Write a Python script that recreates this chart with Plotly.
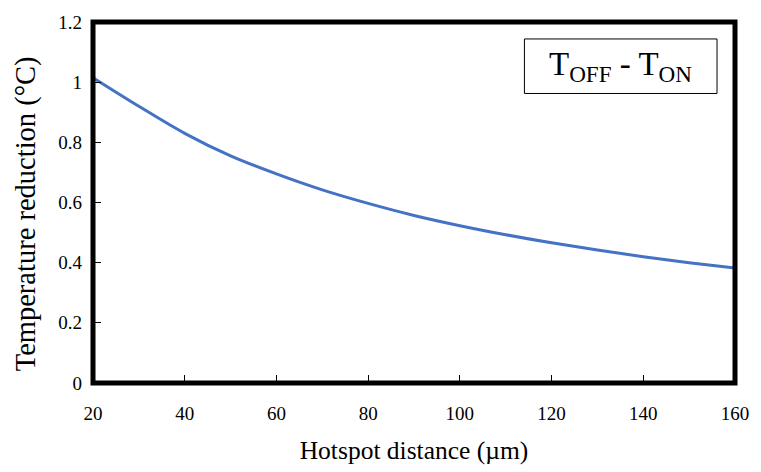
import plotly.graph_objects as go

# Temperature reduction versus hotspot distance
distance_um = [20, 30, 40, 50, 60, 70, 80, 90, 100, 110, 120, 130, 140, 150, 160]
temp_reduction_c = [1.015, 0.920, 0.830, 0.755, 0.695, 0.642, 0.597, 0.557, 0.523, 0.493,
                    0.466, 0.442, 0.420, 0.400, 0.382]

x_ticks = [20, 40, 60, 80, 100, 120, 140, 160]
y_ticks = [0, 0.2, 0.4, 0.6, 0.8, 1.0, 1.2]
y_tick_labels = ["0", "0.2", "0.4", "0.6", "0.8", "1", "1.2"]

serif = "Liberation Serif, Times New Roman, serif"

fig = go.Figure()
fig.add_trace(go.Scatter(
    x=distance_um, y=temp_reduction_c, mode="lines",
    line=dict(color="#4472C4", width=3, shape="spline", smoothing=1.0),
    showlegend=False, hoverinfo="skip",
))

axis_common = dict(
    showgrid=False, zeroline=False, showline=False,
    ticks="inside", ticklen=8, tickwidth=1.2, tickcolor="black",
    tickfont=dict(family=serif, size=19, color="black"),
)

fig.update_xaxes(
    range=[20, 160], tickvals=x_ticks, ticklabelstandoff=17,
    title=dict(text="Hotspot distance (µm)", font=dict(family=serif, size=25.5, color="black"), standoff=18),
    **axis_common,
)
fig.update_yaxes(
    range=[0, 1.2], tickvals=y_ticks, ticktext=y_tick_labels, ticklabelstandoff=10,
    **axis_common,
)

# Heavy frame centred on the plot-area edges
fig.add_shape(type="rect", xref="paper", yref="paper", x0=0, x1=1, y0=0, y1=1,
              line=dict(color="black", width=5), layer="above")

# Vertical axis title
fig.add_annotation(xref="paper", yref="paper", x=-0.104, y=0.468,
                   xanchor="center", yanchor="middle", textangle=-90,
                   text="Temperature reduction (°C)", showarrow=False,
                   font=dict(family=serif, size=28.5, color="black"))

# Boxed label in the upper right
fig.add_shape(type="rect", xref="paper", yref="paper",
              x0=0.672, x1=0.972, y0=0.802, y1=0.953,
              line=dict(color="black", width=1), fillcolor="white")
fig.add_annotation(xref="paper", yref="paper", x=0.8215, y=0.877,
                   xanchor="center", yanchor="middle",
                   text="T<sub>OFF</sub> - T<sub>ON</sub>", showarrow=False,
                   font=dict(family=serif, size=33, color="black"))

fig.update_layout(
    width=761, height=472,
    margin=dict(l=93, r=18, t=17, b=80),
    plot_bgcolor="white", paper_bgcolor="white",
)

fig.write_html("out.html")
